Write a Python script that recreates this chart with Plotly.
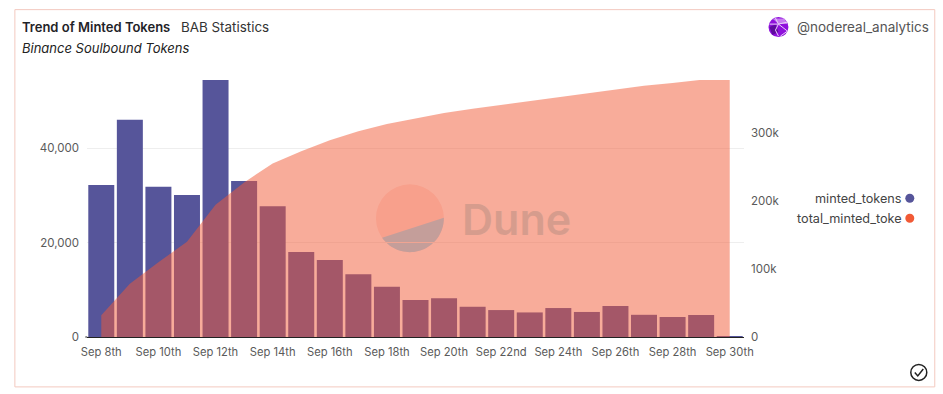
import math
import plotly.graph_objects as go

days = ["Sep 8th","Sep 9th","Sep 10th","Sep 11th","Sep 12th","Sep 13th","Sep 14th","Sep 15th","Sep 16th","Sep 17th","Sep 18th","Sep 19th","Sep 20th","Sep 21st","Sep 22nd","Sep 23rd","Sep 24th","Sep 25th","Sep 26th","Sep 27th","Sep 28th","Sep 29th","Sep 30th"]
minted_tokens = [32170,46000,31800,30050,54400,33000,27700,18000,16300,13300,10650,7830,8190,6400,5700,5200,6130,5300,6560,4700,4230,4660,200]
total_minted_tokens = [32170,78170,109970,140020,194420,227420,255120,273120,289420,302720,313370,321200,329390,335790,341490,346690,352820,358120,364680,369380,373610,378270,378470]
left_ticks = [0,20000,40000]
left_labels = ["0","20,000","40,000"]
right_ticks = [0,100000,200000,300000]
right_labels = ["0","100k","200k","300k"]

W,H = 943,394
L,R,T,B = 86.7,744.5,80,337.5
def px(x): return (x-L)/(R-L)
def py(y): return (B-y)/(B-T)
FONT = "Inter"
GREY = "#5a5a5a"

fig = go.Figure()
fig.add_bar(x=days, y=minted_tokens, name="minted_tokens", marker=dict(color="#56559a", line_width=0), yaxis="y", showlegend=False)
fig.add_scatter(x=days, y=total_minted_tokens, name="total_minted_tokens", mode="lines", line=dict(width=0, color="#f15a36"), fill="tozeroy", fillcolor="rgba(241,90,54,0.5)", yaxis="y2", showlegend=False)

def pshape(kind, x0,y0,x1,y1, layer="above", **kw):
    return dict(type=kind, xref="paper", yref="paper", x0=px(x0), x1=px(x1), y0=py(y0), y1=py(y1), layer=layer, **kw)
def ppath(pts, layer="above", close=False, **kw):
    d = "M"+" L".join(f"{px(a):.5f},{py(b):.5f}" for a,b in pts) + (" Z" if close else "")
    return dict(type="path", xref="paper", yref="paper", path=d, layer=layer, **kw)

# lower segment of the watermark disc (decoration, not data)
cx,cy,r = 410,218.5,34
a0,a1 = math.radians(-1), math.radians(145)
segment = [(cx+r*math.cos(a0+(a1-a0)*i/40), cy+r*math.sin(a0+(a1-a0)*i/40)) for i in range(41)]

shapes = [
    pshape("rect",14.5,9.5,935.5,387.5, line=dict(color="#f3c9bf",width=1), fillcolor="rgba(0,0,0,0)", layer="below"),
    pshape("circle",cx-r,cy-r,cx+r,cy+r, layer="below", fillcolor="#ffe6e2", line_width=0),
    ppath(segment, layer="below", close=True, fillcolor="#97e2ff", line_width=0),
    ppath([(85,337.5),(87,337.5)], line=dict(color="#222",width=1)),
    pshape("circle",769,17,789,37, fillcolor="#8f10dc", line_width=0),
    ppath([(773,18.5),(785,18.5),(788,24),(779,24)], close=True, fillcolor="#c77bf0", line_width=0),
    ppath([(770,27),(776,24.5),(779,32),(773,35)], close=True, fillcolor="#5f0a9e", line_width=0),
    ppath([(776,18),(779,24),(776,30),(779,36)], line=dict(color="#e9d0f8",width=1)),
    ppath([(779,24),(788,31),(781,36)], line=dict(color="#e9d0f8",width=1)),
    ppath([(770,24),(779,24),(788,22)], line=dict(color="#e9d0f8",width=1)),
    pshape("circle",906,194,915,203, fillcolor="#56559a", line_width=0),
    pshape("circle",906,214,915,223, fillcolor="#f15a36", line_width=0),
    pshape("circle",911.5,365,927.5,381, fillcolor="rgba(0,0,0,0)", line=dict(color="#222",width=1.5)),
    ppath([(915.5,373),(918.5,376.5),(924,369.5)], line=dict(color="#222",width=1.5)),
]

def note(text,x,y,anchor="left",size=12,color="#333",**f):
    return dict(text=text, xref="paper", yref="paper", x=px(x), y=py(y), xanchor=anchor, yanchor="middle", showarrow=False,
                font=dict(family=FONT,size=size,color=color,**f))

annotations = [
    note("Trend of Minted Tokens",20,27,size=13,color="#1f2328",weight=600),
    note("BAB Statistics",179,27,size=13.4,color="#333"),
    note("Binance Soulbound Tokens",20,48,size=13,color="#222",style="italic"),
    note("@nodereal_analytics",796,27,size=13.5,color="#555"),
    note("minted_tokens",905,198.5,anchor="right",size=12.7,color="#444"),
    note("total_minted_toke",905,218.5,anchor="right",size=12.7,color="#444"),
    note("Dune",460,219,size=43,color="#d69c8d",weight=600),
]

fig.update_layout(
    width=W, height=H, margin=dict(l=L,r=W-R,t=T,b=H-B,pad=0,autoexpand=False),
    paper_bgcolor="white", plot_bgcolor="white", bargap=0.09,
    font=dict(family=FONT,size=11,color=GREY), showlegend=False,
    xaxis=dict(type="category", categoryorder="array", categoryarray=days, tickmode="array",
               tickvals=days[::2], ticktext=days[::2], showgrid=False, showline=True, linecolor="#222", linewidth=1,
               ticks="", ticklabelstandoff=5, tickfont=dict(size=11.2,color=GREY), tickangle=0),
    yaxis=dict(range=[0,54400], tickmode="array", tickvals=left_ticks, ticktext=left_labels, showgrid=True,
               gridcolor="#eeeeee", gridwidth=1, zeroline=False, showline=False, ticks="", ticklabelstandoff=7,
               tickfont=dict(size=11.5,color=GREY)),
    yaxis2=dict(range=[0,378000], overlaying="y", side="right", tickmode="array", tickvals=right_ticks, ticktext=right_labels,
                showgrid=False, zeroline=False, showline=False, ticks="", ticklabelstandoff=6, tickfont=dict(size=11.5,color=GREY)),
    shapes=shapes, annotations=annotations,
)
fig.write_html("out.html", config=dict(displayModeBar=False),
               post_script="document.body.style.margin='0';document.body.style.overflow='hidden';")
